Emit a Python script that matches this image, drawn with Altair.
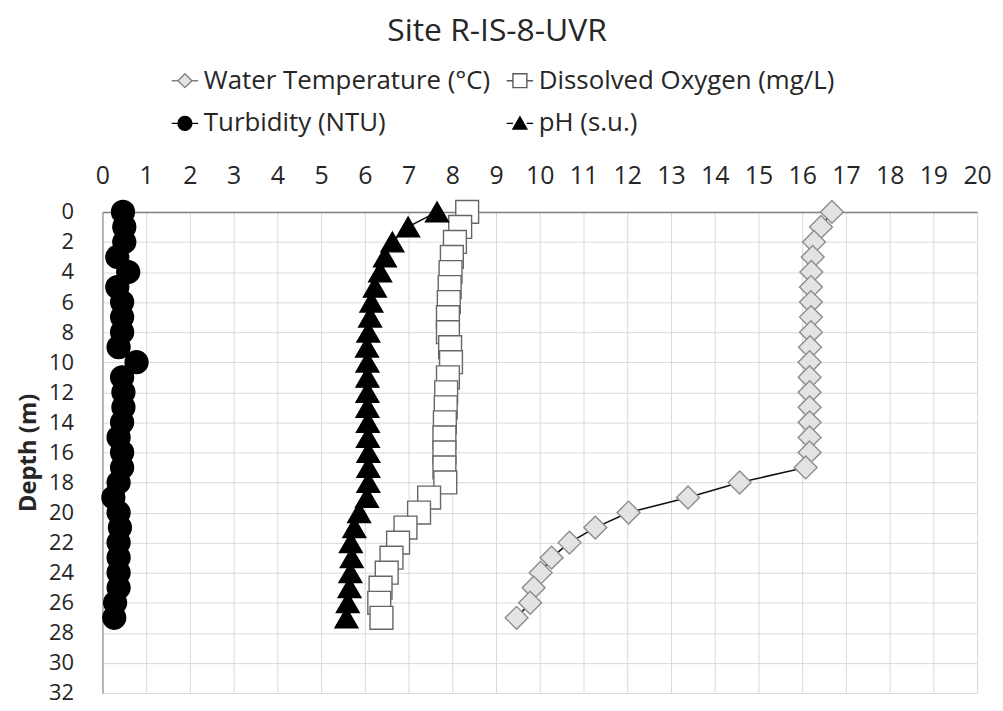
import altair as alt
import pandas as pd

depth = list(range(28))

water_temp = [16.68, 16.43, 16.27, 16.24, 16.21, 16.2, 16.2, 16.2, 16.2, 16.18,
              16.17, 16.17, 16.17, 16.17, 16.17, 16.17, 16.17, 16.08, 14.57, 13.39,
              12.03, 11.27, 10.68, 10.27, 10.02, 9.86, 9.78, 9.47]
dissolved_oxygen = [8.34, 8.18, 8.06, 7.99, 7.96, 7.94, 7.92, 7.9, 7.9, 7.95,
                    7.97, 7.9, 7.86, 7.85, 7.83, 7.82, 7.82, 7.82, 7.84, 7.47,
                    7.24, 6.93, 6.76, 6.61, 6.5, 6.36, 6.33, 6.38]
turbidity = [0.47, 0.5, 0.5, 0.34, 0.59, 0.34, 0.45, 0.45, 0.45, 0.37,
             0.78, 0.45, 0.48, 0.48, 0.45, 0.37, 0.45, 0.45, 0.37, 0.25,
             0.37, 0.4, 0.37, 0.37, 0.37, 0.37, 0.29, 0.27]
ph = [7.65, 6.99, 6.63, 6.46, 6.35, 6.23, 6.15, 6.12, 6.08, 6.05,
      6.06, 6.06, 6.06, 6.06, 6.07, 6.07, 6.08, 6.08, 6.08, 6.05,
      5.87, 5.76, 5.68, 5.7, 5.67, 5.65, 5.61, 5.58]

series_names = ["Water Temperature (°C)", "Dissolved Oxygen (mg/L)",
                "Turbidity (NTU)", "pH (s.u.)"]
series_values = [water_temp, dissolved_oxygen, turbidity, ph]

x_ticks = list(range(0, 21))
y_ticks = list(range(0, 33, 2))

rows = []
for name, vals in zip(series_names, series_values):
    for d, v in zip(depth, vals):
        rows.append({"series": name, "depth": d, "value": v})
df = pd.DataFrame(rows)

FONT = "Open Sans"
TXT = "#262626"

marker_shapes = ["diamond", "square", "circle", "triangle-up"]
marker_fill = ["#e3e3e3", "#ffffff", "#000000", "#000000"]
marker_stroke = ["#8c8c8c", "#666666", "#000000", "#000000"]

legend_shapes = [
    "M-1.9,0L-1,0M1,0L1.9,0M-1,0L0,-1L1,0L0,1Z",
    "M-1.9,0L-1,0M1,0L1.9,0M-1,-1L1,-1L1,1L-1,1Z",
    "M-1.9,0L-1,0M1,0L1.9,0M-1,0A1,1,0,1,0,1,0A1,1,0,1,0,-1,0Z",
    "M-1.9,0L-1,0M1,0L1.9,0M0,-0.95L1,0.8L-1,0.8Z",
]
legend_stroke = ["#808080", "#595959", "#000000", "#000000"]

x_enc = alt.X(
    "value:Q",
    scale=alt.Scale(domain=[0, 20], nice=False, zero=False),
    axis=alt.Axis(orient="top", values=x_ticks, format="d", title=None,
                  ticks=False, labelFlush=False, labelOverlap=False,
                  labelFontSize=25, labelPadding=24, labelColor=TXT, labelFont=FONT,
                  grid=True, gridColor="#d9d9d9", gridWidth=1,
                  domainColor="#808080", domainWidth=1.5),
)
y_enc = alt.Y(
    "depth:Q",
    scale=alt.Scale(domain=[0, 32], reverse=True, nice=False, zero=False),
    axis=alt.Axis(values=y_ticks, format="d", title="Depth (m)",
                  ticks=False, labelFlush=False, labelOverlap=False,
                  labelFontSize=22, labelPadding=29, labelColor=TXT, labelFont=FONT,
                  titleFont=FONT, titleFontSize=24, titleFontWeight="bold",
                  titleColor=TXT, titlePadding=8,
                  grid=True, gridColor="#d9d9d9", gridWidth=1,
                  domainColor="#a0a0a0", domainWidth=1.5),
)

lines = alt.Chart(df).mark_line(color="#111111", strokeWidth=1.6).encode(
    x=x_enc, y=y_enc, detail="series:N", order="depth:Q"
)

points = alt.Chart(df).mark_point(filled=True, size=529, opacity=1, strokeWidth=1.4).encode(
    x=x_enc, y=y_enc,
    shape=alt.Shape("series:N", scale=alt.Scale(domain=series_names, range=marker_shapes), legend=None),
    fill=alt.Fill("series:N", scale=alt.Scale(domain=series_names, range=marker_fill), legend=None),
    stroke=alt.Stroke("series:N", scale=alt.Scale(domain=series_names, range=marker_stroke), legend=None),
)

leg = alt.Legend(
    title=None, orient="none", legendX=70, legendY=-145, columns=2,
    direction="horizontal",
    labelFont=FONT, labelFontSize=26, labelColor=TXT, labelLimit=0,
    labelOffset=6, symbolSize=196, symbolStrokeWidth=1.4,
    rowPadding=17, columnPadding=12, padding=0,
)

legend_layer = alt.Chart(df).transform_filter("datum.depth < 0").mark_point(
    filled=True, size=196, opacity=1, strokeWidth=1.4
).encode(
    x=x_enc, y=y_enc,
    shape=alt.Shape("series:N", scale=alt.Scale(domain=series_names, range=legend_shapes), legend=leg),
    fill=alt.Fill("series:N", scale=alt.Scale(domain=series_names, range=marker_fill), legend=leg),
    stroke=alt.Stroke("series:N", scale=alt.Scale(domain=series_names, range=legend_stroke), legend=leg),
)

chart = alt.layer(lines, points, legend_layer).resolve_scale(
    shape="independent", fill="independent", stroke="independent"
).properties(
    width=880, height=484,
    title=alt.TitleParams("Site R-IS-8-UVR", font=FONT, fontSize=32, fontWeight="normal",
                          color=TXT, anchor="middle", dx=-43, offset=20),
    autosize=alt.AutoSizeParams(type="none"),
    padding={"left": 95, "top": 203, "right": 18, "bottom": 12},
).configure_view(strokeWidth=0)

chart.save("out.html", embed_options={"renderer": "svg", "actions": False})
